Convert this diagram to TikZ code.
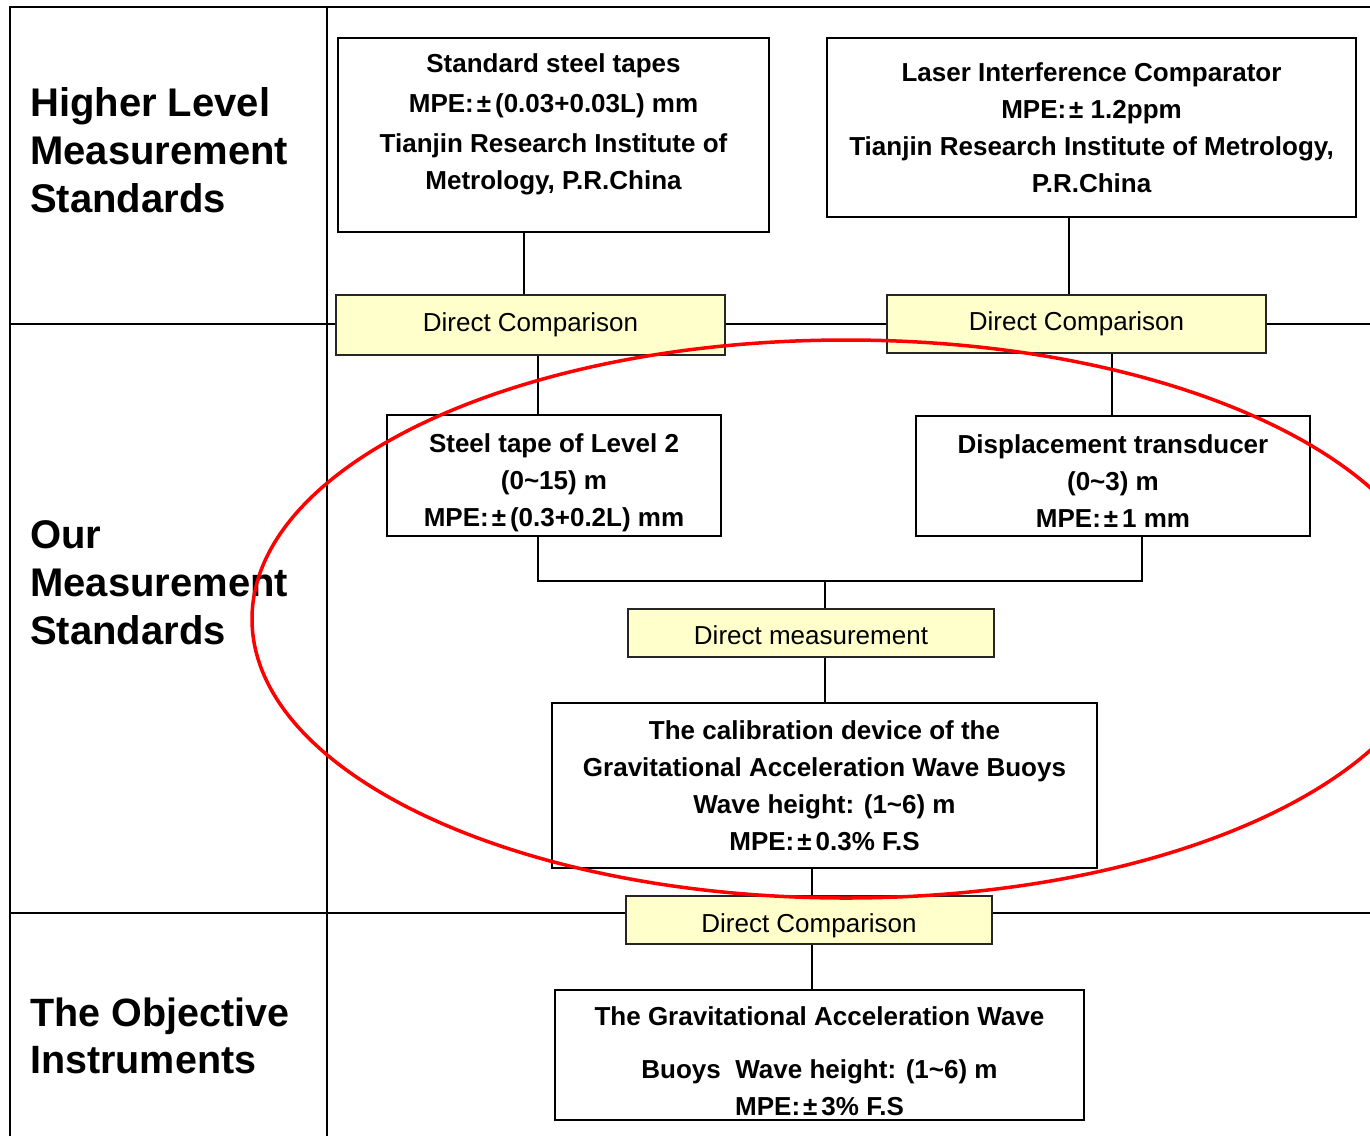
\documentclass[tikz,border=0pt]{standalone}
\usepackage{fontspec}
\setmainfont{Liberation Sans}
\usepackage{xcolor}
\definecolor{paleyellow}{RGB}{255,255,204}
\newcommand{\pmwide}{\hspace{3pt}±\hspace{4pt}}
\newcommand{\tld}{\textasciitilde}
\newcommand{\topgap}[1]{\rule{0pt}{#1}}

\begin{document}
\begin{tikzpicture}[x=1pt, y=-1pt,
		stdbox/.style={draw, line width=1.5pt, align=center, inner sep=0pt, font=\bfseries\fontsize{26}{37}\selectfont},
		cmpbox/.style={draw=black!85, line width=2pt, fill=paleyellow, inner sep=0pt, font=\fontsize{26}{31}\selectfont},
		rowtitle/.style={anchor=west, align=left, inner sep=0pt, font=\bfseries\fontsize{40}{48}\selectfont},
		tableline/.style={line width=2pt},
		link/.style={line width=1.6pt},
		thicklink/.style={line width=2.8pt}]
		\useasboundingbox (0,0) rectangle (1370,1136);
		
		% Table
		\draw[tableline] (10,1136) -- (10,7) -- (1370,7);
		\draw[tableline] (327,7) -- (327,1136);
		\draw[tableline] (10,324) -- (1370,324);
		\draw[tableline] (10,913) -- (1370,913);
		
		% Row titles
		\node[rowtitle] (higher) at (30,150.5) {Higher Level\\Measurement\\Standards};
		\node[rowtitle] (ours) at (30,582.5) {Our\\Measurement\\Standards};
		\node[rowtitle, font=\bfseries\fontsize{39.5}{47}\selectfont] (objective) at (30,1036) {The Objective\\Instruments};
		
		% Boxes
		\node[stdbox, minimum width=431pt, minimum height=194pt] (tapes) at (553.5,135) {Standard steel tapes\\[3pt]MPE:\pmwide(0.03+0.03L) mm\\[3pt]Tianjin Research Institute of\\Metrology, P.R.China\rule[-26pt]{0pt}{0pt}};
		\node[stdbox, minimum width=529pt, minimum height=179pt] (laser) at (1091.5,127.5) {Laser Interference Comparator\\MPE:\hspace{3pt}± 1.2ppm\\Tianjin Research Institute of Metrology,\\P.R.China};
		\node[cmpbox, minimum width=389pt, minimum height=60pt] (dca) at (530.5,325) {Direct Comparison};
		\node[cmpbox, minimum width=379pt, minimum height=58pt] (dcb) at (1076.5,324) {Direct Comparison};
		\node[stdbox, minimum width=334pt, minimum height=121pt] (steel) at (554,475.5) {\topgap{33pt}Steel tape of Level 2\\(0\tld15) m\\MPE:\pmwide(0.3+0.2L) mm};
		\node[stdbox, minimum width=394pt, minimum height=120pt] (trans) at (1113,476) {\topgap{29pt}Displacement transducer\\(0\tld3) m\\MPE:\pmwide1 mm};
		\node[cmpbox, minimum width=366pt, minimum height=48pt] (meas) at (811,633) {\topgap{23pt}Direct measurement};
		\node[stdbox, minimum width=545pt, minimum height=165pt] (calib) at (824.5,785.5) {The calibration device of the\\Gravitational Acceleration Wave Buoys\\Wave height: (1\tld6) m\\MPE:\pmwide0.3\% F.S};
		\node[cmpbox, minimum width=366pt, minimum height=48pt] (dcc) at (809,920) {\topgap{31pt}Direct Comparison};
		\node[stdbox, minimum width=529pt, minimum height=130pt] (buoy) at (819.5,1055) {\topgap{31pt}The Gravitational Acceleration Wave\\[16pt]Buoys\ \ Wave height: (1\tld6) m\\MPE:\pmwide3\% F.S};
		
		% Links
		\coordinate (ax1) at (524,0);
		\coordinate (ax2) at (1069,0);
		\coordinate (ax3) at (538,0);
		\coordinate (ax4) at (1112,0);
		\coordinate (ax5) at (1142,0);
		\coordinate (ax6) at (812,0);
		\coordinate (joint) at (825,581);
		\draw[link] (tapes.south -| ax1) -- (dca.north -| ax1);
		\draw[link] (laser.south -| ax2) -- (dcb.north -| ax2);
		\draw[link] (dca.south -| ax3) -- (steel.north -| ax3);
		\draw[thicklink] (dcb.south -| ax4) -- (trans.north -| ax4);
		\draw[link] (steel.south -| ax3) |- (joint) -| (trans.south -| ax5);
		\draw[thicklink] (joint) -- (meas.north -| joint);
		\draw[link] (meas.south -| joint) -- (calib.north -| joint);
		\draw[link] (calib.south -| ax6) -- (dcc.north -| ax6);
		\draw[link] (dcc.south -| ax6) -- (buoy.north -| ax6);
		
		% Red ring
		\begin{scope}
			\clip (0,0) rectangle (1370,1136);
			\draw[red, line width=3.5pt] (846,619) ellipse [x radius=594pt, y radius=279pt];
		\end{scope}
\end{tikzpicture}
\end{document}
